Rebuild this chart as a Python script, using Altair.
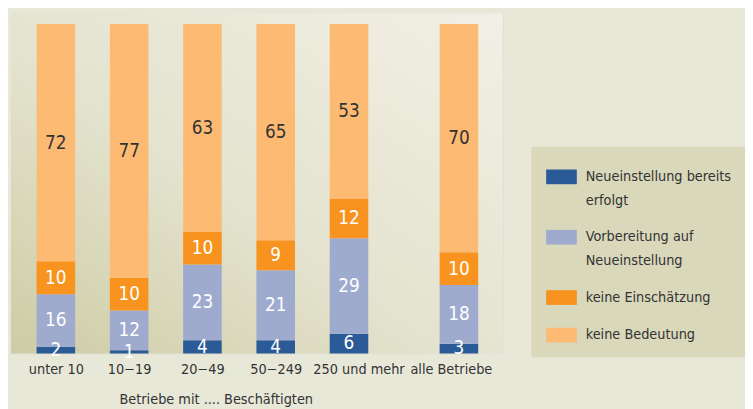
import altair as alt
import pandas as pd

# ---- data ----
categories = ["unter 10", "10−19", "20−49", "50−249", "250 und mehr", "alle Betriebe"]
series = ["Neueinstellung bereits erfolgt", "Vorbereitung auf Neueinstellung",
          "keine Einschätzung", "keine Bedeutung"]
neu = [2, 1, 4, 4, 6, 3]
vorbereitung = [16, 12, 23, 21, 29, 18]
keine_einschaetzung = [10, 10, 10, 9, 12, 10]
keine_bedeutung = [72, 77, 63, 65, 53, 70]

colors = ["#2b5b97", "#9eabcf", "#f7931e", "#fdba73"]
legend_lines = {
    "Neueinstellung bereits erfolgt": ["Neueinstellung bereits", "erfolgt"],
    "Vorbereitung auf Neueinstellung": ["Vorbereitung auf", "Neueinstellung"],
}

FONT = "DejaVu Sans Condensed, Roboto Condensed, Roboto, sans-serif"
TXT = "#333333"
FS = 14.5

# slot position: the summary bar is set off by an extra half step
pos = [i + (0.5 if c == "alle Betriebe" else 0) for i, c in enumerate(categories)]
# label anchor nudges (in slot units) so the long labels do not collide
label_nudge = [0, 0, 0, 0, 0.13, -0.11]
label_pos = [round(p + n, 3) for p, n in zip(pos, label_nudge)]

rows = []
for vals, s_i in zip([neu, vorbereitung, keine_einschaetzung, keine_bedeutung], range(4)):
    for c, p, v in zip(categories, pos, vals):
        rows.append({"cat": c, "pos": p, "series": series[s_i], "order": s_i, "value": v})
df = pd.DataFrame(rows)

W, H = 497, 344

label_expr = " : ".join(
    f"abs(datum.value - {p}) < 0.001 ? '{c}'" for p, c in zip(label_pos, categories)
) + " : ''"

leg_expr = " : ".join(
    f"datum.label == '{k}' ? {v!r}" for k, v in legend_lines.items()
) + " : datum.label"

xscale = alt.Scale(domain=[-0.545, 6.029], nice=False, zero=False)
yscale = alt.Scale(domain=[0, 1.033], nice=False, zero=True)

bg = alt.Chart(pd.DataFrame({"a": [0]})).mark_rect(
    fill=alt.Gradient(
        gradient="linear",
        stops=[alt.GradientStop(color="#cecca4", offset=0),
               alt.GradientStop(color="#e4e3cf", offset=0.45),
               alt.GradientStop(color="#f1f0e5", offset=1)],
        x1=0, y1=1, x2=1, y2=0,
    )
).encode(x=alt.value(0), x2=alt.value(W), y=alt.value(0), y2=alt.value(H))

base = alt.Chart(df).transform_stack(
    stack="value", groupby=["cat"], as_=["y0", "y1"],
    sort=[alt.SortField("order", order="ascending")], offset="normalize",
).transform_calculate(mid="(datum.y0 + datum.y1) / 2")

bars = base.mark_bar(size=39).encode(
    x=alt.X("pos:Q", scale=xscale,
            axis=alt.Axis(values=label_pos, labelExpr=label_expr, domain=False, ticks=False,
                          grid=False, labelFont=FONT, labelFontSize=FS, labelColor=TXT,
                          labelPadding=9, labelFlush=False, labelOverlap=False,
                          title="Betriebe mit .... Beschäftigten", titleFont=FONT,
                          titleFontSize=FS, titleFontWeight="normal", titleColor=TXT,
                          titlePadding=17, titleX=207, titleAlign="center")),
    y=alt.Y("y0:Q", scale=yscale, axis=None),
    y2="y1:Q",
    color=alt.Color("series:N", scale=alt.Scale(domain=series, range=colors),
                    legend=alt.Legend(orient="none", legendX=526, legendY=135, title=None,
                                      fillColor="#d9d8bb", padding=15,
                                      symbolType="M-1,-0.48H1V0.48H-1Z", symbolSize=961,
                                      symbolStrokeWidth=0, symbolOpacity=1,
                                      labelFont=FONT, labelFontSize=FS, labelColor=TXT,
                                      labelOffset=9, labelLimit=300, rowPadding=15,
                                      labelExpr=leg_expr)),
    order=alt.Order("order:Q"),
)

text = base.mark_text(font=FONT, fontSize=19).encode(
    x=alt.X("pos:Q", scale=xscale),
    y=alt.Y("mid:Q", scale=yscale),
    text="value:Q",
    color=alt.condition(alt.datum.series == "keine Bedeutung", alt.value(TXT), alt.value("white")),
)

chart = alt.layer(bg, bars, text).properties(
    width=W, height=H,
    autosize=alt.AutoSizeParams(type="none"),
    padding={"left": 3, "top": 3, "right": 245, "bottom": 56},
    background="#e8e8d8",
).configure_view(stroke="white", strokeWidth=3).configure(
    style={"guide-label": {"lineHeight": 24}}
)

chart.save("out.html", embed_options={"renderer": "svg", "actions": False})
